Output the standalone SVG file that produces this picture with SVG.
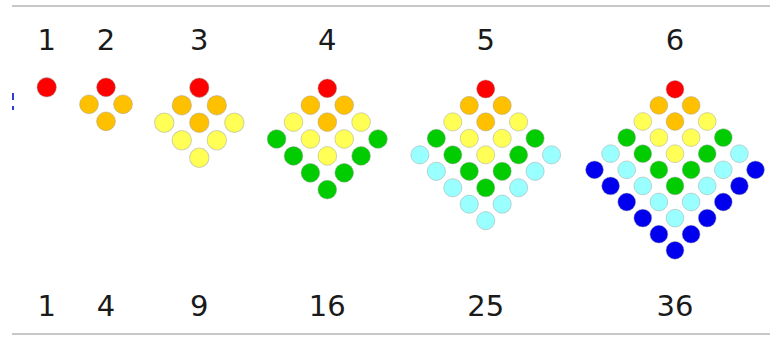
<svg xmlns="http://www.w3.org/2000/svg" xmlns:xlink="http://www.w3.org/1999/xlink" width="770" height="338" viewBox="0 0 770 338">
<style>
  .num { font-family: "DejaVu Sans", Verdana, sans-serif; font-size: 29px; fill: #1a1a1a; text-anchor: middle; }
  .rule { stroke: #c8c8c8; stroke-width: 2; fill: none; }
  .dot { stroke: #9a9a9a; stroke-opacity: 0.45; stroke-width: 1; }
  .L0 { fill: #ff0000; }
  .L1 { fill: #ffc000; }
  .L2 { fill: #ffff55; }
  .L3 { fill: #00cc00; }
  .L4 { fill: #99ffff; }
  .L5 { fill: #0000ee; }
</style>
<defs>
  <g id="layer0" class="L0 dot">
    <circle cx="0" cy="0" r="9.4"/>
  </g>
  <g id="layer1" class="L1 dot">
    <circle cx="17" cy="17" r="9.4"/><circle cx="0" cy="34" r="9.4"/><circle cx="-17" cy="17" r="9.4"/>
  </g>
  <g id="layer2" class="L2 dot">
    <circle cx="34" cy="34" r="9.4"/><circle cx="17" cy="51" r="9.4"/><circle cx="0" cy="68" r="9.4"/>
    <circle cx="-34" cy="34" r="9.4"/><circle cx="-17" cy="51" r="9.4"/>
  </g>
  <g id="layer3" class="L3 dot">
    <circle cx="51" cy="51" r="9.4"/><circle cx="34" cy="68" r="9.4"/><circle cx="17" cy="85" r="9.4"/><circle cx="0" cy="102" r="9.4"/>
    <circle cx="-51" cy="51" r="9.4"/><circle cx="-34" cy="68" r="9.4"/><circle cx="-17" cy="85" r="9.4"/>
  </g>
  <g id="layer4" class="L4 dot">
    <circle cx="68" cy="68" r="9.4"/><circle cx="51" cy="85" r="9.4"/><circle cx="34" cy="102" r="9.4"/><circle cx="17" cy="119" r="9.4"/><circle cx="0" cy="136" r="9.4"/>
    <circle cx="-68" cy="68" r="9.4"/><circle cx="-51" cy="85" r="9.4"/><circle cx="-34" cy="102" r="9.4"/><circle cx="-17" cy="119" r="9.4"/>
  </g>
  <g id="layer5" class="L5 dot">
    <circle cx="85" cy="85" r="9.4"/><circle cx="68" cy="102" r="9.4"/><circle cx="51" cy="119" r="9.4"/><circle cx="34" cy="136" r="9.4"/><circle cx="17" cy="153" r="9.4"/><circle cx="0" cy="170" r="9.4"/>
    <circle cx="-85" cy="85" r="9.4"/><circle cx="-68" cy="102" r="9.4"/><circle cx="-51" cy="119" r="9.4"/><circle cx="-34" cy="136" r="9.4"/><circle cx="-17" cy="153" r="9.4"/>
  </g>
</defs>

<line class="rule" x1="12" y1="6" x2="770" y2="6"/>
<line class="rule" x1="12" y1="334" x2="770" y2="334"/>
<rect x="12" y="93" width="2" height="7" fill="#2a3ed8"/>
<rect x="12" y="106" width="2" height="4" fill="#2a3ed8"/>

<g id="sq1">
  <text class="num" x="46.7" y="50">1</text>
  <g transform="translate(46.7,87.3) scale(1.03)">
    <use xlink:href="#layer0"/>
  </g>
  <text class="num" x="46.7" y="316">1</text>
</g>

<g id="sq2">
  <text class="num" x="106" y="50">2</text>
  <g transform="translate(106,87.3) scale(1.0)">
    <use xlink:href="#layer0"/><use xlink:href="#layer1"/>
  </g>
  <text class="num" x="106" y="316">4</text>
</g>

<g id="sq3">
  <text class="num" x="199.3" y="50">3</text>
  <g transform="translate(199.3,87.7) scale(1.03)">
    <use xlink:href="#layer0"/><use xlink:href="#layer1"/><use xlink:href="#layer2"/>
  </g>
  <text class="num" x="199.3" y="316">9</text>
</g>

<g id="sq4">
  <text class="num" x="327.3" y="50">4</text>
  <g transform="translate(327.3,88.3) scale(0.994)">
    <use xlink:href="#layer0"/><use xlink:href="#layer1"/><use xlink:href="#layer2"/><use xlink:href="#layer3"/>
  </g>
  <text class="num" x="327.3" y="316">16</text>
</g>

<g id="sq5">
  <text class="num" x="485.7" y="50">5</text>
  <g transform="translate(485.7,89) scale(0.968)">
    <use xlink:href="#layer0"/><use xlink:href="#layer1"/><use xlink:href="#layer2"/><use xlink:href="#layer3"/><use xlink:href="#layer4"/>
  </g>
  <text class="num" x="485.7" y="316">25</text>
</g>

<g id="sq6">
  <text class="num" x="675" y="50">6</text>
  <g transform="translate(675,89.3) scale(0.947)">
    <use xlink:href="#layer0"/><use xlink:href="#layer1"/><use xlink:href="#layer2"/><use xlink:href="#layer3"/><use xlink:href="#layer4"/><use xlink:href="#layer5"/>
  </g>
  <text class="num" x="675" y="316">36</text>
</g>
</svg>
